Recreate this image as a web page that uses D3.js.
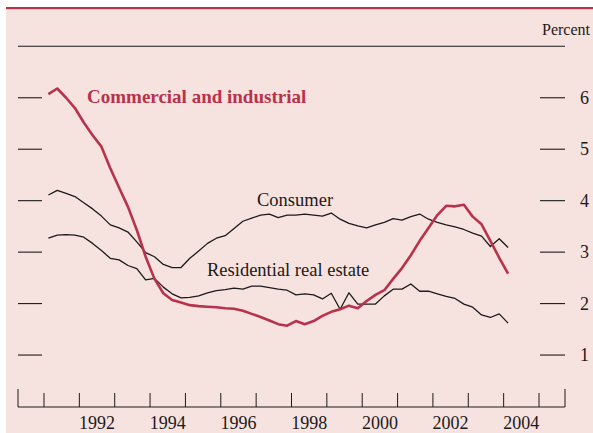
<!DOCTYPE html>
<html>
<head>
<meta charset="utf-8">
<script src="https://cdn.jsdelivr.net/npm/d3@7"></script>
<style>
  html, body { margin: 0; padding: 0; background: #fff; }
  svg { display: block; font-family: "Liberation Serif", "Times New Roman", serif; }
</style>
</head>
<body>
<svg id="chart" width="593" height="433"></svg>
<script>
// quarterly, 1991:Q1 - 2004:Q1
const firstYear = 1991
const commercial = [
  6.07, 6.18, 6.00, 5.80,
  5.52, 5.27, 5.05, 4.63,
  4.25, 3.88, 3.43, 2.91,
  2.48, 2.20, 2.07, 2.02,
  1.97, 1.95, 1.94, 1.93,
  1.91, 1.90, 1.86, 1.80,
  1.74, 1.67, 1.60, 1.57,
  1.66, 1.60, 1.66, 1.76,
  1.84, 1.89, 1.96, 1.91,
  2.05, 2.17, 2.26, 2.48,
  2.69, 2.94, 3.22, 3.47,
  3.72, 3.90, 3.89, 3.92,
  3.69, 3.54, 3.22, 2.89,
  2.58
]
const consumer = [
  4.11, 4.20, 4.14, 4.08,
  3.96, 3.84, 3.70, 3.53,
  3.47, 3.39, 3.20, 2.99,
  2.91, 2.76, 2.70, 2.70,
  2.88, 3.02, 3.17, 3.27,
  3.32, 3.46, 3.60, 3.66,
  3.72, 3.74, 3.67, 3.72,
  3.72, 3.74, 3.72, 3.70,
  3.76, 3.64, 3.56, 3.51,
  3.47, 3.53, 3.58, 3.65,
  3.62, 3.69, 3.74, 3.64,
  3.58, 3.53, 3.49, 3.44,
  3.37, 3.31, 3.11, 3.26,
  3.09
]
const residential = [
  3.27, 3.33, 3.34, 3.33,
  3.29, 3.17, 3.03, 2.88,
  2.85, 2.74, 2.68, 2.46,
  2.49, 2.32, 2.19, 2.11,
  2.12, 2.15, 2.21, 2.25,
  2.27, 2.30, 2.28, 2.34,
  2.34, 2.31, 2.28, 2.26,
  2.17, 2.19, 2.17, 2.09,
  2.20, 1.89, 2.21, 1.99,
  1.99, 1.99, 2.15, 2.28,
  2.28, 2.38, 2.24, 2.24,
  2.19, 2.14, 2.10, 1.99,
  1.93, 1.78, 1.73, 1.80,
  1.62
]
const yTicks = [1, 2, 3, 4, 5, 6]
const yearTicks = d3.range(1991, 2006)
const yearLabels = [1992, 1994, 1996, 1998, 2000, 2002, 2004]

const RED = '#b8324b'
const INK = '#1c1a1a'
const BG = '#f6e2df'

const svg = d3.select('#chart')

// background + top rule
svg.append('rect').attr('x', 6).attr('y', 8).attr('width', 587).attr('height', 425).attr('fill', BG)
svg.append('rect').attr('x', 6).attr('y', 7).attr('width', 587).attr('height', 2.2).attr('fill', RED)

const x = d3.scaleLinear().domain([1990.265, 2005.735]).range([18, 565])
const y = d3.scaleLinear().domain([0, 7]).range([406.5, 46.3])

const toPoints = arr => arr.map((v, i) => ({ t: firstYear + (i + 0.5) / 4, v }))

// top frame line
svg.append('line')
  .attr('x1', x.range()[0]).attr('x2', x.range()[1])
  .attr('y1', y(7)).attr('y2', y(7))
  .attr('stroke', INK).attr('stroke-width', 1.1)

// left and right y ticks
const yg = svg.append('g')
yg.selectAll('.lt').data(yTicks).enter().append('line')
  .attr('x1', 18).attr('x2', 42)
  .attr('y1', d => y(d)).attr('y2', d => y(d))
  .attr('stroke', INK).attr('stroke-width', 1.1)
yg.selectAll('.rt').data(yTicks).enter().append('line')
  .attr('x1', 540).attr('x2', 565)
  .attr('y1', d => y(d)).attr('y2', d => y(d))
  .attr('stroke', INK).attr('stroke-width', 1.1)
yg.selectAll('text').data(yTicks).enter().append('text')
  .attr('x', 580).attr('y', d => y(d) + 6)
  .attr('font-size', 18).attr('fill', INK)
  .text(d => d)

svg.append('text')
  .attr('x', 590).attr('y', 35)
  .attr('text-anchor', 'end')
  .attr('font-size', 16).attr('fill', INK)
  .text('Percent')

// bottom axis
const base = y(0) + 0.5
const xg = svg.append('g')
xg.append('line')
  .attr('x1', x.range()[0]).attr('x2', x.range()[1])
  .attr('y1', base).attr('y2', base)
  .attr('stroke', INK).attr('stroke-width', 1.1)
xg.selectAll('.tick').data(yearTicks).enter().append('line')
  .attr('x1', d => x(d)).attr('x2', d => x(d))
  .attr('y1', base).attr('y2', base - 14)
  .attr('stroke', INK).attr('stroke-width', 1)
xg.selectAll('.edge').data(x.range()).enter().append('line')
  .attr('x1', d => d).attr('x2', d => d)
  .attr('y1', base).attr('y2', base - 18)
  .attr('stroke', INK).attr('stroke-width', 1)
xg.selectAll('text').data(yearLabels).enter().append('text')
  .attr('x', d => x(d + 0.5)).attr('y', 429)
  .attr('text-anchor', 'middle')
  .attr('font-size', 18).attr('fill', INK)
  .text(d => d)

// series
const line = d3.line().x(d => x(d.t)).y(d => y(d.v))

svg.append('path').datum(toPoints(consumer))
  .attr('d', line).attr('fill', 'none')
  .attr('stroke', INK).attr('stroke-width', 1.3).attr('stroke-linejoin', 'round')
svg.append('path').datum(toPoints(residential))
  .attr('d', line).attr('fill', 'none')
  .attr('stroke', INK).attr('stroke-width', 1.3).attr('stroke-linejoin', 'round')
svg.append('path').datum(toPoints(commercial))
  .attr('d', line).attr('fill', 'none')
  .attr('stroke', RED).attr('stroke-width', 2.6).attr('stroke-linejoin', 'round')

// labels
svg.append('text')
  .attr('x', 87).attr('y', 103)
  .attr('font-size', 19).attr('font-weight', 'bold').attr('fill', RED)
  .text('Commercial and industrial')
svg.append('text')
  .attr('x', 257).attr('y', 206)
  .attr('font-size', 18.5).attr('fill', INK)
  .text('Consumer')
svg.append('text')
  .attr('x', 207).attr('y', 276)
  .attr('font-size', 18.5).attr('fill', INK)
  .text('Residential real estate')
</script>
</body>
</html>
